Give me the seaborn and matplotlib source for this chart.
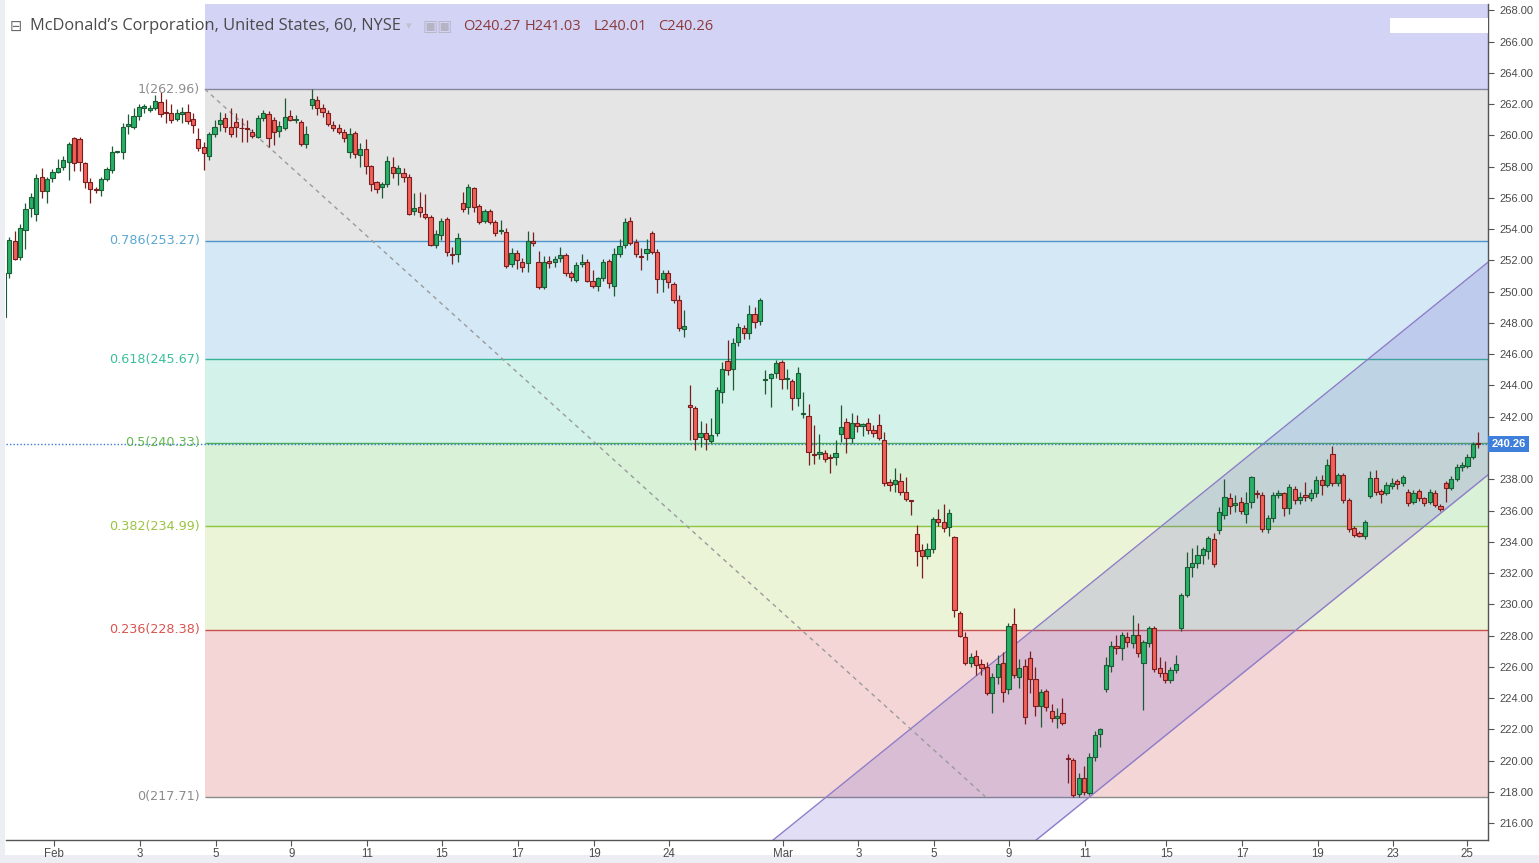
import numpy as np
import pandas as pd
import matplotlib
matplotlib.use("Agg")
import matplotlib.pyplot as plt
from matplotlib.patches import Rectangle
import seaborn as sns

# ---------------- data (hourly candles, MCD, NYSE) ----------------
O = [
    248.4, 251.2, 253.26, 252.2, 253.94, 255.33, 255.0, 257.35, 256.44, 257.25,
    257.67, 257.95, 258.31, 259.81, 259.74, 258.2, 256.99, 256.55, 256.5, 257.18,
    257.78, 258.95, 258.95, 260.6, 260.51, 261.23, 261.72, 261.62, 261.72, 262.15,
    261.5, 261.45, 261.02, 261.34, 261.47, 261.02, 259.74, 259.27, 258.69, 260.06,
    260.7, 261.09, 260.51, 260.84, 260.5, 260.5, 260.23, 259.91, 261.09, 261.34,
    260.98, 260.27, 260.49, 261.26, 261.0, 260.83, 259.42, 261.94, 262.26, 261.72,
    261.4, 260.66, 260.45, 260.23, 258.95, 260.13, 258.74, 259.1, 258.03, 257.0,
    256.71, 256.88, 258.0, 257.6, 257.61, 257.32, 255.18, 255.4, 255.0, 254.76,
    252.98, 253.62, 254.62, 252.4, 252.39, 255.65, 255.4, 256.6, 255.48, 254.54,
    255.14, 254.47, 253.9, 253.81, 251.75, 252.45, 251.91, 251.81, 253.26, 251.91,
    250.32, 251.98, 251.91, 252.13, 252.34, 251.17, 250.74, 251.77, 251.87, 250.68,
    250.36, 250.85, 251.98, 250.36, 252.39, 252.98, 254.52, 253.2, 252.3, 252.45,
    253.73, 252.56, 250.79, 251.17, 250.49, 249.47, 247.59, 242.75, 242.54, 240.72,
    240.98, 240.47, 240.98, 243.6, 245.59, 245.03, 246.8, 247.66, 247.34, 248.57,
    248.15, 244.35, 244.46, 244.78, 245.48, 244.4, 244.3, 243.18, 242.2, 242.07,
    239.6, 239.6, 239.7, 239.4, 239.41, 240.9, 241.69, 240.62, 241.58, 241.41,
    241.58, 241.15, 241.47, 240.51, 237.84, 237.7, 237.89, 237.21, 236.65, 234.5,
    233.48, 233.11, 233.52, 235.44, 235.25, 234.93, 234.29, 229.43, 227.89, 226.23,
    226.72, 226.17, 225.97, 224.31, 225.38, 226.23, 224.57, 228.72, 225.34, 226.08,
    226.55, 225.21, 223.5, 224.48, 223.2, 222.71, 223.03, 220.2, 220.05, 217.87,
    218.89, 217.96, 220.22, 221.71, 224.57, 226.06, 227.34, 227.19, 227.93, 227.51,
    228.04, 226.23, 227.51, 228.47, 225.91, 225.59, 225.16, 225.8, 228.47, 230.6,
    232.37, 232.62, 233.16, 233.43, 234.16, 234.76, 235.71, 236.78, 236.35, 236.57,
    235.78, 236.57, 237.1, 237.0, 234.8, 235.5, 237.0, 237.1, 236.14, 237.36,
    236.67, 237.0, 236.78, 237.1, 237.95, 237.63, 239.62, 237.79, 238.27, 236.67,
    234.86, 234.58, 234.37, 236.93, 238.07, 237.27, 237.14, 237.57, 237.91, 237.74,
    237.21, 236.57, 237.27, 236.78, 236.57, 237.14, 236.29, 237.74, 237.42, 238.0,
    238.77, 238.87, 239.41, 240.27]
H = [
    251.3, 253.5, 253.9, 254.3, 255.7, 256.3, 257.5, 257.9, 257.35, 257.82,
    258.46, 258.67, 259.6, 259.9, 259.87, 258.3, 257.25, 256.7, 257.35, 258.0,
    259.3, 259.0, 260.8, 261.36, 261.72, 261.98, 261.98, 261.95, 262.58, 262.79,
    262.3, 262.0, 261.7, 261.8, 262.0, 261.4, 260.45, 259.6, 260.2, 260.98,
    261.47, 261.4, 261.72, 261.4, 261.12, 260.98, 260.4, 261.3, 261.6, 261.55,
    261.2, 260.9, 262.36, 261.6, 261.3, 261.0, 260.62, 262.96, 262.5, 262.0,
    261.6, 260.9, 260.7, 260.4, 260.45, 260.3, 259.5, 259.76, 258.1, 257.1,
    257.03, 258.69, 258.6, 258.1, 257.9, 257.5, 256.29, 256.39, 256.24, 254.9,
    253.94, 254.69, 254.8, 252.87, 253.73, 256.4, 256.88, 256.7, 255.6, 255.3,
    255.3, 254.6, 254.58, 254.1, 252.8, 252.66, 252.13, 253.9, 253.83, 252.62,
    252.3, 252.3, 252.3, 252.87, 252.5, 251.3, 251.9, 252.4, 252.1, 251.38,
    250.96, 252.1, 252.07, 252.77, 253.35, 254.7, 254.76, 253.4, 252.77, 253.4,
    253.9, 252.7, 251.4, 251.38, 250.6, 249.8, 248.83, 244.03, 242.7, 241.75,
    241.6, 241.9, 243.9, 245.52, 246.91, 247.02, 248.0, 247.9, 249.14, 249.0,
    249.57, 244.99, 244.82, 245.6, 245.6, 245.03, 244.4, 245.2, 243.6, 242.81,
    241.5, 240.9, 239.9, 239.6, 240.51, 242.75, 241.9, 242.26, 242.1, 241.6,
    241.9, 241.5, 242.2, 241.0, 238.0, 238.7, 238.4, 238.13, 236.7, 235.08,
    233.86, 233.9, 235.6, 236.1, 236.42, 236.1, 234.4, 229.6, 228.25, 226.9,
    227.08, 226.5, 226.3, 225.6, 226.76, 226.98, 228.83, 229.75, 226.49, 226.49,
    227.04, 225.97, 224.6, 224.6, 223.6, 223.35, 224.0, 220.43, 220.2, 219.2,
    219.66, 220.5, 221.9, 222.07, 226.65, 227.68, 228.02, 228.25, 228.25, 229.3,
    228.79, 227.72, 228.6, 228.6, 226.65, 226.4, 226.0, 226.76, 230.75, 233.37,
    233.58, 233.8, 233.7, 234.4, 234.54, 236.25, 238.0, 237.1, 237.0, 236.9,
    237.2, 238.2, 237.3, 237.2, 235.7, 237.2, 237.3, 237.2, 237.7, 237.6,
    237.2, 237.85, 237.4, 238.2, 238.3, 239.28, 240.13, 238.4, 238.4, 236.8,
    235.0, 234.7, 235.4, 238.5, 238.6, 237.4, 237.8, 238.1, 238.0, 238.3,
    237.4, 237.3, 237.4, 236.9, 237.4, 237.3, 236.4, 237.9, 238.2, 239.0,
    239.1, 239.6, 240.4, 241.03]
L = [
    248.2, 250.85, 252.0, 252.0, 252.7, 254.8, 254.5, 256.0, 255.7, 257.03,
    257.57, 257.78, 257.14, 257.74, 257.74, 256.6, 255.65, 256.3, 256.1, 257.1,
    257.6, 258.9, 258.5, 260.1, 260.38, 261.0, 261.45, 261.5, 261.6, 261.19,
    260.8, 260.8, 260.9, 260.8, 260.7, 260.13, 259.0, 257.78, 258.4, 259.9,
    260.3, 260.23, 259.9, 259.9, 259.55, 259.6, 259.8, 259.8, 260.9, 259.27,
    259.38, 259.9, 260.34, 260.9, 260.8, 259.3, 259.17, 261.7, 261.3, 261.2,
    260.6, 260.3, 260.1, 259.6, 258.57, 258.57, 257.99, 257.5, 256.44, 256.3,
    256.0, 256.7, 257.3, 256.8, 257.0, 254.9, 254.9, 254.79, 254.62, 252.9,
    252.77, 253.3, 252.3, 251.77, 251.91, 255.1, 254.97, 255.11, 254.3, 254.4,
    254.3, 253.55, 253.7, 251.5, 251.6, 251.43, 251.27, 251.27, 252.92, 250.15,
    250.15, 251.5, 251.6, 251.9, 250.98, 250.7, 250.6, 251.6, 250.6, 250.21,
    250.06, 250.7, 250.21, 249.72, 252.2, 252.8, 252.98, 252.2, 251.38, 252.0,
    252.4, 249.94, 250.0, 250.21, 249.3, 247.5, 247.12, 240.5, 239.87, 240.08,
    239.9, 240.3, 240.8, 242.86, 244.7, 243.71, 246.5, 247.0, 247.0, 247.7,
    247.9, 243.45, 242.64, 244.5, 243.8, 243.75, 242.43, 242.7, 241.9, 238.91,
    239.0, 239.3, 239.1, 238.38, 238.91, 240.4, 239.67, 240.3, 241.0, 240.8,
    240.9, 240.7, 240.5, 237.6, 237.27, 237.21, 237.0, 236.63, 235.71, 232.44,
    231.67, 232.9, 233.3, 235.0, 234.6, 234.4, 229.22, 227.9, 226.12, 226.0,
    225.48, 225.48, 224.2, 223.08, 224.9, 223.78, 224.3, 225.3, 224.63, 222.35,
    224.31, 222.86, 222.18, 223.2, 222.5, 222.07, 222.28, 218.6, 217.71, 217.71,
    217.8, 217.8, 220.0, 220.86, 224.4, 225.7, 226.82, 226.44, 227.3, 227.2,
    226.65, 223.24, 227.3, 225.7, 225.33, 225.0, 224.95, 225.6, 228.3, 230.49,
    231.73, 232.3, 232.6, 232.9, 232.37, 234.5, 235.44, 235.8, 235.9, 235.8,
    235.18, 236.14, 236.8, 234.6, 234.58, 235.3, 236.8, 235.65, 235.8, 236.4,
    236.4, 236.6, 236.6, 236.9, 237.0, 237.5, 237.6, 237.6, 236.5, 234.6,
    234.3, 234.3, 234.16, 236.8, 237.0, 236.5, 237.0, 237.4, 237.4, 237.6,
    236.3, 236.4, 236.6, 236.3, 236.4, 236.2, 236.0, 236.57, 237.3, 237.9,
    238.5, 238.7, 239.3, 240.01]
C = [
    251.2, 253.3, 252.1, 254.05, 255.27, 256.07, 257.25, 256.44, 257.18, 257.67,
    257.89, 258.42, 259.44, 258.25, 258.31, 257.03, 256.54, 256.5, 257.18, 257.82,
    258.95, 259.0, 260.55, 260.7, 261.23, 261.79, 261.87, 261.76, 262.21, 261.36,
    261.4, 260.98, 261.4, 261.47, 260.94, 260.66, 259.17, 258.89, 260.06, 260.55,
    260.96, 260.55, 260.06, 260.55, 260.45, 260.4, 259.95, 261.09, 261.4, 259.81,
    260.23, 260.59, 261.19, 260.98, 261.05, 259.42, 260.06, 262.32, 261.76, 261.47,
    260.7, 260.45, 260.23, 259.85, 260.06, 258.79, 259.1, 258.03, 256.88, 256.54,
    256.88, 258.35, 257.6, 257.9, 257.32, 255.0, 255.33, 255.11, 254.76, 252.98,
    253.66, 254.52, 252.51, 252.35, 253.41, 255.27, 256.68, 255.4, 254.47, 255.14,
    254.47, 253.78, 253.95, 251.66, 252.45, 252.02, 251.56, 253.26, 253.09, 250.28,
    251.91, 251.81, 252.07, 252.34, 251.17, 250.92, 251.7, 251.87, 250.7, 250.36,
    250.85, 251.91, 250.57, 252.4, 252.92, 254.44, 253.13, 252.39, 252.25, 252.71,
    252.56, 250.79, 251.17, 250.6, 249.47, 247.66, 247.8, 242.6, 240.56, 240.94,
    240.56, 240.83, 243.71, 245.03, 244.99, 246.74, 247.76, 247.34, 248.55, 248.08,
    249.47, 244.4, 244.73, 245.42, 244.39, 244.45, 243.18, 244.78, 242.25, 239.72,
    239.55, 239.76, 239.28, 239.35, 239.67, 241.36, 240.62, 241.58, 241.41, 241.53,
    241.15, 240.94, 240.62, 237.74, 237.63, 237.95, 237.21, 236.72, 236.6, 233.43,
    233.11, 233.52, 235.44, 235.29, 234.86, 235.83, 229.64, 227.98, 226.23, 226.65,
    226.12, 225.91, 224.31, 225.34, 226.19, 224.42, 228.62, 225.48, 225.91, 222.78,
    225.21, 223.5, 224.42, 223.42, 222.71, 222.86, 222.43, 220.1, 217.81, 218.89,
    218.02, 220.22, 221.64, 222.0, 226.12, 227.34, 227.19, 228.04, 227.61, 228.04,
    226.87, 227.61, 228.47, 225.84, 225.59, 225.16, 225.8, 226.19, 230.6, 232.41,
    232.62, 233.16, 233.52, 234.22, 232.58, 235.93, 236.85, 236.29, 236.5, 235.97,
    236.46, 238.12, 237.05, 234.8, 235.5, 237.0, 237.14, 236.14, 237.49, 236.67,
    236.89, 236.85, 237.1, 237.95, 237.63, 238.91, 237.79, 238.27, 236.67, 234.8,
    234.43, 234.37, 235.29, 238.07, 237.21, 237.06, 237.63, 237.79, 237.68, 238.12,
    236.46, 237.1, 236.78, 236.5, 237.21, 236.35, 236.08, 237.42, 238.0, 238.77,
    238.91, 239.41, 240.27, 240.26]

# x-axis (bar index) tick labels
tick_pos = [9.3, 25.2, 39.3, 53.2, 67.2, 81.1, 95.2, 109.3, 123.2, 144.3,
            158.2, 172.2, 186.1, 200.2, 215.2, 229.3, 243.3, 257.2, 270.9]
tick_labels = ["Feb", "3", "5", "9", "11", "15", "17", "19", "24", "Mar",
               "3", "5", "9", "11", "15", "17", "19", "23", "25"]

# Fibonacci retracement
fib_ratios = ["1", "0.786", "0.618", "0.5", "0.382", "0.236", "0"]
fib_prices = [262.96, 253.27, 245.67, 240.33, 234.99, 228.38, 217.71]
fib_start = 37.2
fib_diag_x = [37.2, 181.7]
fib_diag_y = [262.96, 217.71]

# parallel channel anchors
channel_x = [140, 275]
channel_upper = [214.25, 251.94]
channel_lower = [200.65, 238.34]

last_price = 240.26

# ---------------- styling ----------------
sns.set_theme(style="white")
plt.rcParams["font.family"] = ["Liberation Sans", "DejaVu Sans"]

W, Hpx = 1539, 863
fig = plt.figure(figsize=(W / 100, Hpx / 100), dpi=100)
fig.patch.set_facecolor("#eceef3")
fig.add_artist(Rectangle((5 / W, 8 / Hpx), 1, 1, transform=fig.transFigure,
                         facecolor="white", edgecolor="none", zorder=-10))

ax = fig.add_axes([6 / W, 1 - 840 / Hpx, (1488 - 6) / W, (840 - 4) / Hpx])
ax.set_facecolor("white")
XMAX = 274.8

# fib zones
zone_colors = ["#e5e5e6", "#d5e8f5", "#d3f2ea", "#d8f1d7", "#ebf4d7", "#f5d6d7"]
line_colors = ["#85859c", "#4e94cc", "#35b396", "#4caf50", "#8dc63f", "#c9504c", "#8a8a8a"]
label_colors = ["#8c8c8c", "#5aa7d3", "#3bbf9a", "#63b84f", "#9ac440", "#d9534f", "#8c8c8c"]
ax.fill_between([fib_start, XMAX + 5], fib_prices[0], 275, color="#d3d3f5", lw=0, zorder=0.5)
for i in range(len(fib_prices) - 1):
    ax.fill_between([fib_start, XMAX + 5], fib_prices[i + 1], fib_prices[i],
                    color=zone_colors[i], lw=0, zorder=0.5)
for r, p, lc, tc in zip(fib_ratios, fib_prices, line_colors, label_colors):
    ax.hlines(p, fib_start, XMAX + 5, color=lc, lw=1.0, zorder=1)
    ax.text(fib_start - 0.9, p, f"{r}({p:.2f})", ha="right", va="center",
            color=tc, fontsize=9.2, family=["DejaVu Sans"], zorder=6)

# parallel channel
ax.fill_between(channel_x, channel_lower, channel_upper, color="#6a5acd",
                alpha=0.2, lw=0, zorder=2)
chan = pd.DataFrame({"x": channel_x * 2,
                     "y": channel_upper + channel_lower,
                     "line": ["upper"] * 2 + ["lower"] * 2})
sns.lineplot(data=chan, x="x", y="y", units="line", estimator=None, ax=ax,
             color="#8e7cc8", linewidth=1.0, zorder=2.5, legend=False)

# fib diagonal (dashed)
diag = pd.DataFrame({"x": fib_diag_x, "y": fib_diag_y})
sns.lineplot(data=diag, x="x", y="y", ax=ax, color="#9a9a9a", linewidth=1.0,
             zorder=2.6, legend=False)
ax.lines[-1].set_dashes([3, 3])

# last price dotted line
ax.axhline(last_price, color="#3c78d8", lw=1.0, ls=(0, (1, 1.5)), zorder=2.9)

# candles
o = np.array(O); h = np.array(H); l = np.array(L); c = np.array(C)
x = np.arange(len(o))
up = c >= o
fill = np.where(up, "#27b068", "#ef6159")
edge = np.where(up, "#1c5a34", "#7d1c1c")
bot = np.minimum(o, c)
hgt = np.maximum(np.abs(c - o), 0.03)
ax.vlines(x, np.minimum(l, bot), np.maximum(h, bot + hgt), colors=edge, lw=0.9, zorder=3)
ax.bar(x, hgt, bottom=bot, width=0.78, color=fill, edgecolor=edge, linewidth=0.8, zorder=4)

ax.set_xlim(0.39, XMAX)
ax.set_ylim(214.93, 268.4)
ax.set_xlabel("")
ax.set_ylabel("")

# axes decorations
for s in ["top", "left"]:
    ax.spines[s].set_visible(False)
for s in ["right", "bottom"]:
    ax.spines[s].set_color("#555555")
    ax.spines[s].set_linewidth(1.0)
ax.yaxis.tick_right()
yt = np.arange(216, 269, 2)
ax.set_yticks(yt)
ax.set_yticklabels([f"{v:.2f}" if v != 240 else "" for v in yt])
ax.tick_params(axis="y", direction="out", length=4, width=0.8, color="#555555",
               labelsize=8, labelcolor="#4a4a4a", pad=4, right=True, left=False)
ax.set_xticks(tick_pos)
ax.set_xticklabels(tick_labels)
ax.tick_params(axis="x", direction="out", length=4, width=0.8, color="#555555",
               labelsize=8.3, labelcolor="#4a4a4a", pad=2, bottom=True)
ax.grid(False)

ax.annotate(f"{last_price:.2f}", xy=(1.0, last_price), xycoords=("axes fraction", "data"),
            xytext=(2.5, 0), textcoords="offset points", ha="left", va="center",
            color="white", fontsize=8, fontweight="bold", annotation_clip=False,
            bbox=dict(boxstyle="square,pad=0.3", fc="#3f7fdc", ec="none"), zorder=10)

# header
yh = 1 - 26 / Hpx
fig.text(10 / W, yh, "\u229F", family=["DejaVu Sans"], fontsize=10.5, color="#6a6a6a", va="center")
fig.text(30 / W, yh, "McDonald\u2019s Corporation, United States, 60, NYSE",
         family=["Open Sans", "DejaVu Sans"], fontsize=11.8, color="#4a4a4a", va="center")
fig.text(406 / W, yh, "\u25BE", family=["DejaVu Sans"], fontsize=8, color="#c0c0c8", va="center")
fig.text(423 / W, yh, "\u25A3\u25A3", family=["DejaVu Sans"], fontsize=11.5, color="#b4b4c4", va="center")
for xx, s in [(463, "O240.27"), (525, "H241.03"), (594, "L240.01"), (658, "C240.26")]:
    fig.text(xx / W, yh, s, family=["Open Sans", "DejaVu Sans"], fontsize=10.5,
             color="#8b3a3a", va="center")
fig.add_artist(Rectangle((1390 / W, 1 - 33 / Hpx), 98 / W, 15 / Hpx,
                         transform=fig.transFigure, facecolor="white",
                         edgecolor="none", zorder=5))

fig.savefig("out.png", dpi=100)
